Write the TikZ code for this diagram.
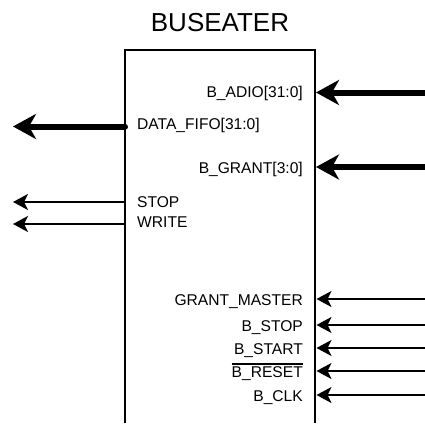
\documentclass[tikz,border=0pt]{standalone}
\usepackage{fontspec}
\setmainfont{Liberation Sans}
\usetikzlibrary{arrows.meta}

\tikzset{
	bus/.style={line width=6pt,line cap=round,-{Stealth[length=23pt,width=25pt,inset=7pt]}},
	wire/.style={line width=2pt,-{Stealth[length=15pt,width=16pt,inset=4pt]}},
	pinlabel/.style={font=\fontsize{15.6}{18}\selectfont,inner sep=0pt}
}

\begin{document}
\begin{tikzpicture}[x=1pt,y=-1pt]
		\useasboundingbox (0,0) rectangle (425,423);
		\draw[line width=2pt] (125,423) |- (315,50) -- (315,423); % block, open at the bottom
		\node[font=\fontsize{26}{30}\selectfont] (title) at (220,23) {BUSEATER};
		\foreach \y/\b/\n/\t in {92.5/97.5/adio/{B\_ADIO[31:0]},167/173/grant/{B\_GRANT[3:0]}} % buses in
		{
		\coordinate (\n-pin) at (316,\y);
		\coordinate (\n-src) at (428,\y);
		\node[pinlabel,anchor=base east] (\n) at (303,\b) {\t};
		\draw[bus] (\n-src) -- (\n-pin);
		}
		\foreach \y/\b/\n/\t in {126.5/129/fifo/{DATA\_FIFO[31:0]}} % buses out
		{
		\coordinate (\n-pin) at (125,\y);
		\coordinate (\n-dst) at (13,\y);
		\node[pinlabel,anchor=base west] (\n) at (137,\b) {\t};
		\draw[bus] (\n-pin) -- (\n-dst);
		}
		\foreach \y/\b/\n/\t in {202/207/stop/STOP,224/227/write/WRITE} % wires out
		{
		\coordinate (\n-pin) at (125,\y);
		\coordinate (\n-dst) at (13,\y);
		\node[pinlabel,anchor=base west] (\n) at (137,\b) {\t};
		\draw[wire] (\n-pin) -- (\n-dst);
		}
		\foreach \y/\n/\t in {299/gm/GRANT\_MASTER,325/bstop/B\_STOP,348/bstart/B\_START,371/reset/B\_RESET,395/clk/B\_CLK} % wires in
		{
		\coordinate (\n-pin) at (316.5,\y);
		\coordinate (\n-src) at (428,\y);
		\node[pinlabel,anchor=base east] (\n) at (303,\y+6.5) {\t};
		\draw[wire] (\n-src) -- (\n-pin);
		}
		\draw[line width=1.2pt] ([yshift=2.5pt]reset.north west) -- ([yshift=2.5pt]reset.north east); % active low
\end{tikzpicture}
\end{document}
